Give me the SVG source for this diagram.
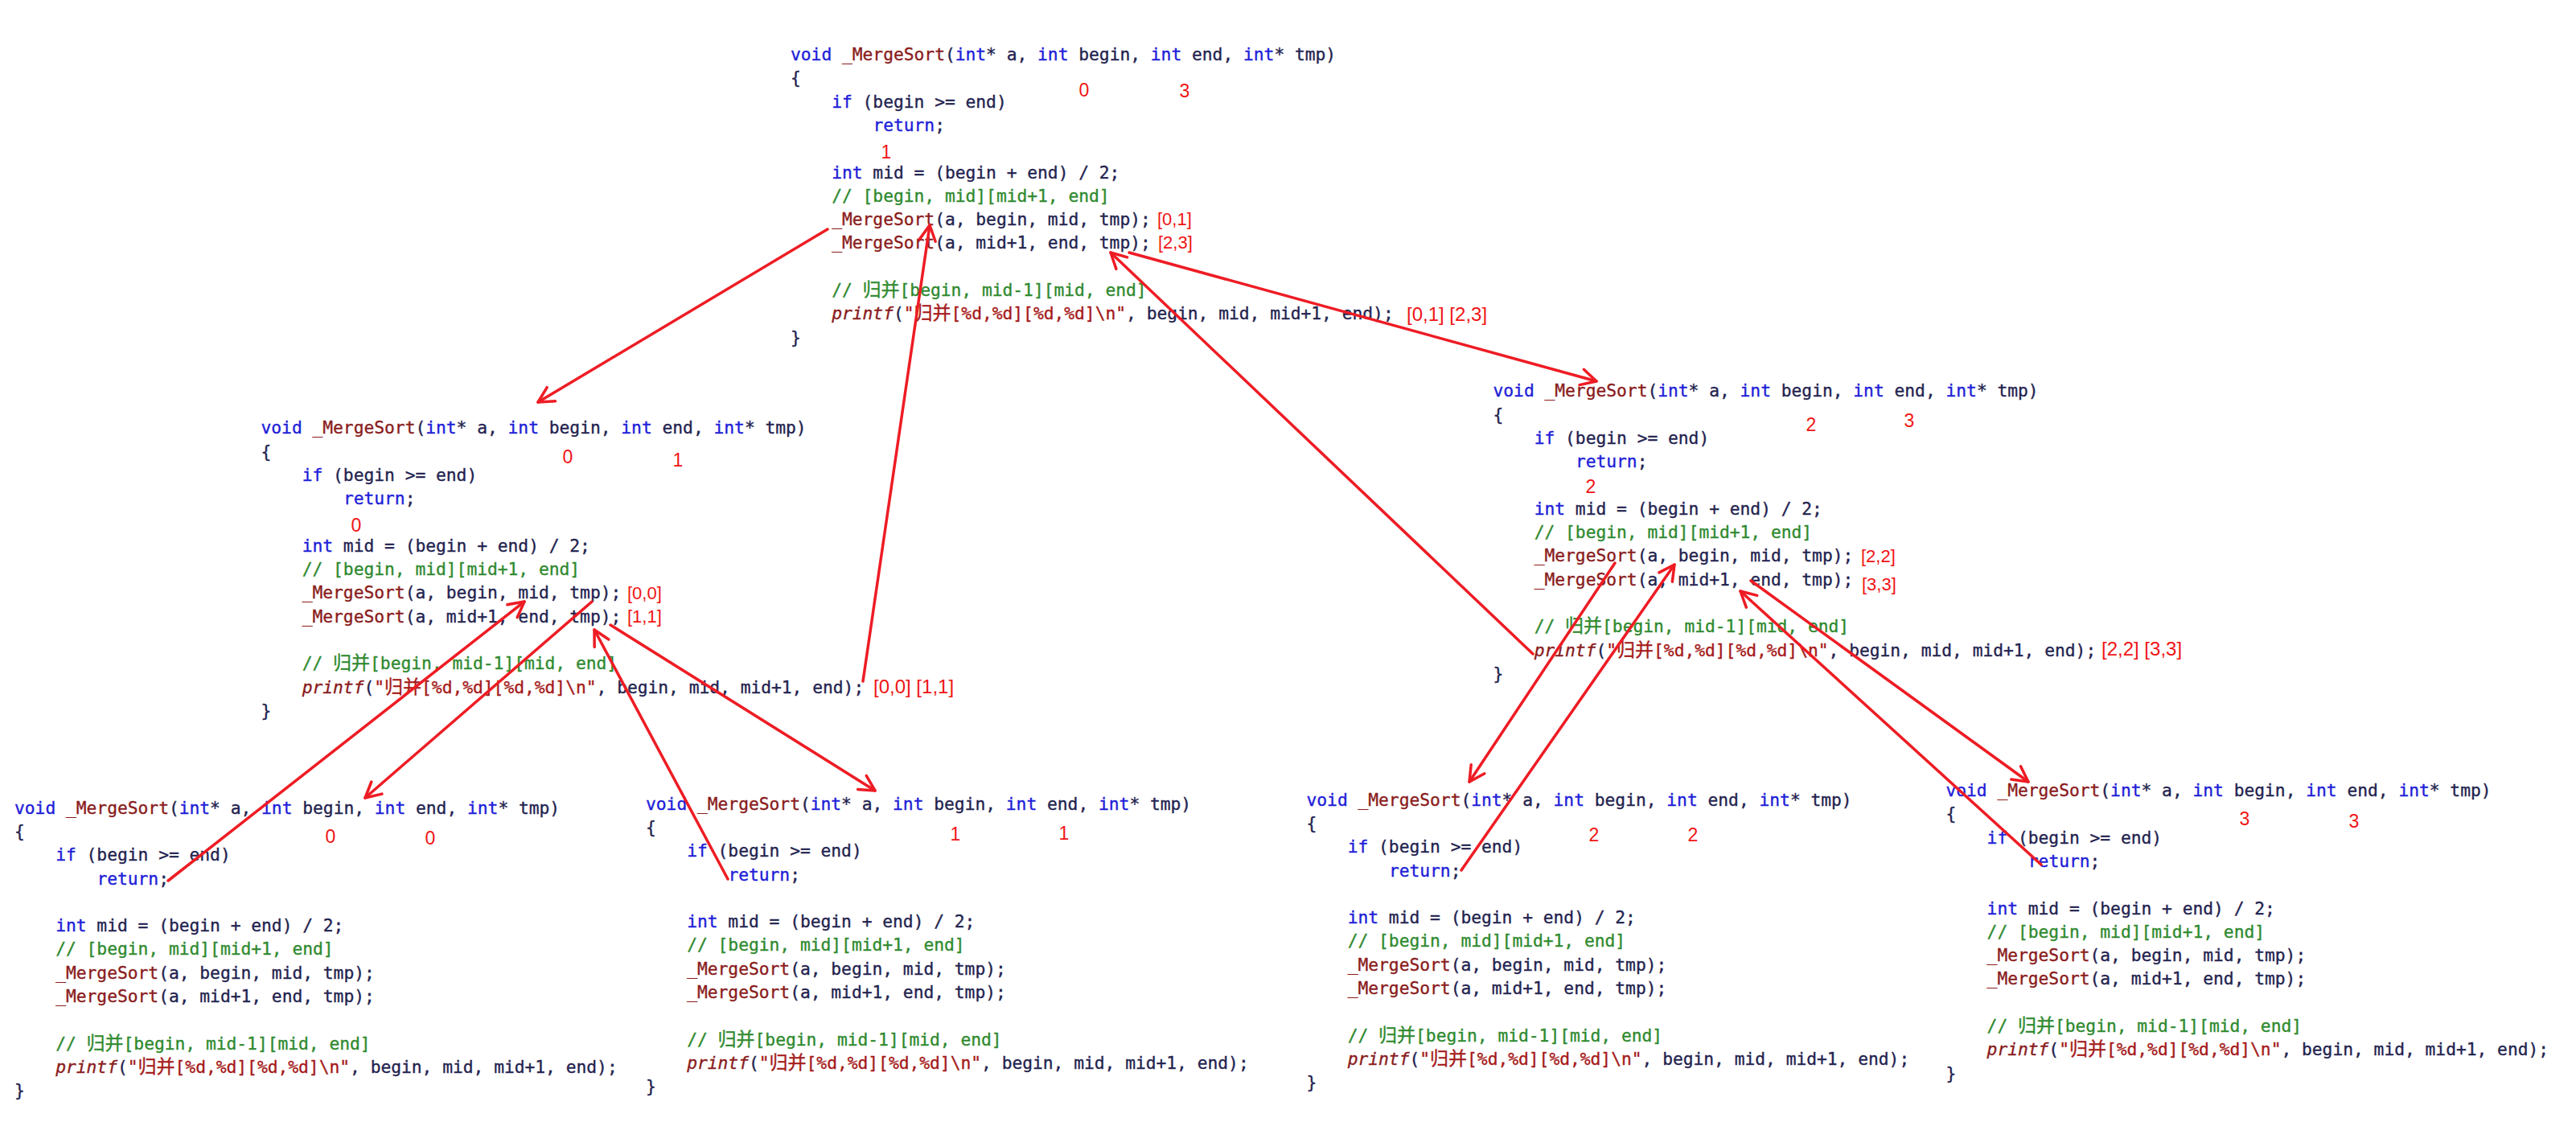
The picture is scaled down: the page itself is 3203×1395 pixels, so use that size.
<svg xmlns="http://www.w3.org/2000/svg" width="3203" height="1395" viewBox="0 0 3203 1395" xml:space="preserve">
<style>
.c{font-family:"DejaVu Sans Mono","Liberation Mono","Noto Sans CJK SC",monospace;font-size:21.26px;fill:#23234f;stroke:#23234f;stroke-width:0.35px}
.k{fill:#2020d8;stroke:#2020d8}
.f{fill:#8a1c1c;stroke:#8a1c1c}
.m{fill:#2f8a2f;stroke:#2f8a2f}
.s{fill:#a51a1a;stroke:#a51a1a}
.i{fill:#8a1c1c;stroke:#8a1c1c;font-style:italic}
.z{font-family:"Noto Sans CJK SC",sans-serif;font-size:23px}
.n{font-family:"Liberation Sans","Noto Sans",sans-serif;font-size:23px;fill:#f01414;text-anchor:middle}
.r{font-family:"Liberation Sans","Noto Sans",sans-serif;font-size:22px;fill:#f01414}
.r2{font-family:"Liberation Sans","Noto Sans",sans-serif;font-size:24px;fill:#f01414}
.a{fill:none;stroke:#ee1c24;stroke-width:3.5;stroke-linecap:round;marker-end:url(#ah)}
</style>
<defs>
<marker id="ah" markerUnits="userSpaceOnUse" markerWidth="40" markerHeight="40" refX="0" refY="0" orient="auto" overflow="visible"><path d="M-19,-10 L0,0 L-19,10" fill="none" stroke="#ee1c24" stroke-width="3.5" stroke-linecap="round" stroke-linejoin="round"/></marker>
</defs>
<rect width="3203" height="1395" fill="#ffffff"/>

<g id="node-top">
<g class="c" transform="translate(983,75)">
<text x="0" y="0"><tspan class="k">void</tspan> <tspan class="f">_MergeSort</tspan>(<tspan class="k">int</tspan>* a, <tspan class="k">int</tspan> begin, <tspan class="k">int</tspan> end, <tspan class="k">int</tspan>* tmp)</text>
<text x="0" y="29.3">{</text>
<text x="51.2" y="58.6"><tspan class="k">if</tspan> (begin &gt;= end)</text>
<text x="102.4" y="87.9"><tspan class="k">return</tspan>;</text>
<text x="51.2" y="146.5"><tspan class="k">int</tspan> mid = (begin + end) / 2;</text>
<text x="51.2" y="175.8" class="m">// [begin, mid][mid+1, end]</text>
<text x="51.2" y="205.1"><tspan class="f">_MergeSort</tspan>(a, begin, mid, tmp);</text>
<text x="51.2" y="234.4"><tspan class="f">_MergeSort</tspan>(a, mid+1, end, tmp);</text>
<text x="51.2" y="293" class="m">// <tspan class="z">归并</tspan>[begin, mid-1][mid, end]</text>
<text x="51.2" y="322.3"><tspan class="i">printf</tspan>(<tspan class="s">"<tspan class="z">归并</tspan>[%d,%d][%d,%d]\n"</tspan>, begin, mid, mid+1, end);</text>
<text x="0" y="351.6">}</text>
</g>
<text class="n" x="1348" y="120">0</text>
<text class="n" x="1473" y="121">3</text>
<text class="n" x="1102" y="197">1</text>
<text class="r" x="1439" y="280">[0,1]</text>
<text class="r" x="1440" y="309">[2,3]</text>
<text class="r2" x="1749" y="399">[0,1] [2,3]</text>
</g>

<g id="node-left-mid">
<g class="c" transform="translate(324.5,539.3)">
<text x="0" y="0"><tspan class="k">void</tspan> <tspan class="f">_MergeSort</tspan>(<tspan class="k">int</tspan>* a, <tspan class="k">int</tspan> begin, <tspan class="k">int</tspan> end, <tspan class="k">int</tspan>* tmp)</text>
<text x="0" y="29.3">{</text>
<text x="51.2" y="58.6"><tspan class="k">if</tspan> (begin &gt;= end)</text>
<text x="102.4" y="87.9"><tspan class="k">return</tspan>;</text>
<text x="51.2" y="146.5"><tspan class="k">int</tspan> mid = (begin + end) / 2;</text>
<text x="51.2" y="175.8" class="m">// [begin, mid][mid+1, end]</text>
<text x="51.2" y="205.1"><tspan class="f">_MergeSort</tspan>(a, begin, mid, tmp);</text>
<text x="51.2" y="234.4"><tspan class="f">_MergeSort</tspan>(a, mid+1, end, tmp);</text>
<text x="51.2" y="293" class="m">// <tspan class="z">归并</tspan>[begin, mid-1][mid, end]</text>
<text x="51.2" y="322.3"><tspan class="i">printf</tspan>(<tspan class="s">"<tspan class="z">归并</tspan>[%d,%d][%d,%d]\n"</tspan>, begin, mid, mid+1, end);</text>
<text x="0" y="351.6">}</text>
</g>
<text class="n" x="706" y="576">0</text>
<text class="n" x="843" y="580">1</text>
<text class="n" x="443" y="661">0</text>
<text class="r" x="780" y="745">[0,0]</text>
<text class="r" x="780" y="774">[1,1]</text>
<text class="r2" x="1086" y="862">[0,0] [1,1]</text>
</g>

<g id="node-right-mid">
<g class="c" transform="translate(1856.5,493.3)">
<text x="0" y="0"><tspan class="k">void</tspan> <tspan class="f">_MergeSort</tspan>(<tspan class="k">int</tspan>* a, <tspan class="k">int</tspan> begin, <tspan class="k">int</tspan> end, <tspan class="k">int</tspan>* tmp)</text>
<text x="0" y="29.3">{</text>
<text x="51.2" y="58.6"><tspan class="k">if</tspan> (begin &gt;= end)</text>
<text x="102.4" y="87.9"><tspan class="k">return</tspan>;</text>
<text x="51.2" y="146.5"><tspan class="k">int</tspan> mid = (begin + end) / 2;</text>
<text x="51.2" y="175.8" class="m">// [begin, mid][mid+1, end]</text>
<text x="51.2" y="205.1"><tspan class="f">_MergeSort</tspan>(a, begin, mid, tmp);</text>
<text x="51.2" y="234.4"><tspan class="f">_MergeSort</tspan>(a, mid+1, end, tmp);</text>
<text x="51.2" y="293" class="m">// <tspan class="z">归并</tspan>[begin, mid-1][mid, end]</text>
<text x="51.2" y="322.3"><tspan class="i">printf</tspan>(<tspan class="s">"<tspan class="z">归并</tspan>[%d,%d][%d,%d]\n"</tspan>, begin, mid, mid+1, end);</text>
<text x="0" y="351.6">}</text>
</g>
<text class="n" x="2252" y="536">2</text>
<text class="n" x="2374" y="531">3</text>
<text class="n" x="1978" y="613">2</text>
<text class="r" x="2314" y="699">[2,2]</text>
<text class="r" x="2315" y="734">[3,3]</text>
<text class="r2" x="2613" y="815">[2,2] [3,3]</text>
</g>

<g id="node-bottom-1">
<g class="c" transform="translate(18,1011.7)">
<text x="0" y="0"><tspan class="k">void</tspan> <tspan class="f">_MergeSort</tspan>(<tspan class="k">int</tspan>* a, <tspan class="k">int</tspan> begin, <tspan class="k">int</tspan> end, <tspan class="k">int</tspan>* tmp)</text>
<text x="0" y="29.3">{</text>
<text x="51.2" y="58.6"><tspan class="k">if</tspan> (begin &gt;= end)</text>
<text x="102.4" y="87.9"><tspan class="k">return</tspan>;</text>
<text x="51.2" y="146.5"><tspan class="k">int</tspan> mid = (begin + end) / 2;</text>
<text x="51.2" y="175.8" class="m">// [begin, mid][mid+1, end]</text>
<text x="51.2" y="205.1"><tspan class="f">_MergeSort</tspan>(a, begin, mid, tmp);</text>
<text x="51.2" y="234.4"><tspan class="f">_MergeSort</tspan>(a, mid+1, end, tmp);</text>
<text x="51.2" y="293" class="m">// <tspan class="z">归并</tspan>[begin, mid-1][mid, end]</text>
<text x="51.2" y="322.3"><tspan class="i">printf</tspan>(<tspan class="s">"<tspan class="z">归并</tspan>[%d,%d][%d,%d]\n"</tspan>, begin, mid, mid+1, end);</text>
<text x="0" y="351.6">}</text>
</g>
<text class="n" x="411" y="1048">0</text>
<text class="n" x="535" y="1050">0</text>
</g>

<g id="node-bottom-2">
<g class="c" transform="translate(803,1006.7)">
<text x="0" y="0"><tspan class="k">void</tspan> <tspan class="f">_MergeSort</tspan>(<tspan class="k">int</tspan>* a, <tspan class="k">int</tspan> begin, <tspan class="k">int</tspan> end, <tspan class="k">int</tspan>* tmp)</text>
<text x="0" y="29.3">{</text>
<text x="51.2" y="58.6"><tspan class="k">if</tspan> (begin &gt;= end)</text>
<text x="102.4" y="87.9"><tspan class="k">return</tspan>;</text>
<text x="51.2" y="146.5"><tspan class="k">int</tspan> mid = (begin + end) / 2;</text>
<text x="51.2" y="175.8" class="m">// [begin, mid][mid+1, end]</text>
<text x="51.2" y="205.1"><tspan class="f">_MergeSort</tspan>(a, begin, mid, tmp);</text>
<text x="51.2" y="234.4"><tspan class="f">_MergeSort</tspan>(a, mid+1, end, tmp);</text>
<text x="51.2" y="293" class="m">// <tspan class="z">归并</tspan>[begin, mid-1][mid, end]</text>
<text x="51.2" y="322.3"><tspan class="i">printf</tspan>(<tspan class="s">"<tspan class="z">归并</tspan>[%d,%d][%d,%d]\n"</tspan>, begin, mid, mid+1, end);</text>
<text x="0" y="351.6">}</text>
</g>
<text class="n" x="1188" y="1045">1</text>
<text class="n" x="1323" y="1044">1</text>
</g>

<g id="node-bottom-3">
<g class="c" transform="translate(1624.5,1001.7)">
<text x="0" y="0"><tspan class="k">void</tspan> <tspan class="f">_MergeSort</tspan>(<tspan class="k">int</tspan>* a, <tspan class="k">int</tspan> begin, <tspan class="k">int</tspan> end, <tspan class="k">int</tspan>* tmp)</text>
<text x="0" y="29.3">{</text>
<text x="51.2" y="58.6"><tspan class="k">if</tspan> (begin &gt;= end)</text>
<text x="102.4" y="87.9"><tspan class="k">return</tspan>;</text>
<text x="51.2" y="146.5"><tspan class="k">int</tspan> mid = (begin + end) / 2;</text>
<text x="51.2" y="175.8" class="m">// [begin, mid][mid+1, end]</text>
<text x="51.2" y="205.1"><tspan class="f">_MergeSort</tspan>(a, begin, mid, tmp);</text>
<text x="51.2" y="234.4"><tspan class="f">_MergeSort</tspan>(a, mid+1, end, tmp);</text>
<text x="51.2" y="293" class="m">// <tspan class="z">归并</tspan>[begin, mid-1][mid, end]</text>
<text x="51.2" y="322.3"><tspan class="i">printf</tspan>(<tspan class="s">"<tspan class="z">归并</tspan>[%d,%d][%d,%d]\n"</tspan>, begin, mid, mid+1, end);</text>
<text x="0" y="351.6">}</text>
</g>
<text class="n" x="1982" y="1046">2</text>
<text class="n" x="2105" y="1046">2</text>
</g>

<g id="node-bottom-4">
<g class="c" transform="translate(2419.4,990)">
<text x="0" y="0"><tspan class="k">void</tspan> <tspan class="f">_MergeSort</tspan>(<tspan class="k">int</tspan>* a, <tspan class="k">int</tspan> begin, <tspan class="k">int</tspan> end, <tspan class="k">int</tspan>* tmp)</text>
<text x="0" y="29.3">{</text>
<text x="51.2" y="58.6"><tspan class="k">if</tspan> (begin &gt;= end)</text>
<text x="102.4" y="87.9"><tspan class="k">return</tspan>;</text>
<text x="51.2" y="146.5"><tspan class="k">int</tspan> mid = (begin + end) / 2;</text>
<text x="51.2" y="175.8" class="m">// [begin, mid][mid+1, end]</text>
<text x="51.2" y="205.1"><tspan class="f">_MergeSort</tspan>(a, begin, mid, tmp);</text>
<text x="51.2" y="234.4"><tspan class="f">_MergeSort</tspan>(a, mid+1, end, tmp);</text>
<text x="51.2" y="293" class="m">// <tspan class="z">归并</tspan>[begin, mid-1][mid, end]</text>
<text x="51.2" y="322.3"><tspan class="i">printf</tspan>(<tspan class="s">"<tspan class="z">归并</tspan>[%d,%d][%d,%d]\n"</tspan>, begin, mid, mid+1, end);</text>
<text x="0" y="351.6">}</text>
</g>
<text class="n" x="2791" y="1026">3</text>
<text class="n" x="2927" y="1029">3</text>
</g>

<g id="connectors">
<path class="a" d="M1029,285 L669,500"/>
<path class="a" d="M1073,847 L1156,280"/>
<path class="a" d="M1404,314 L1985,474"/>
<path class="a" d="M1906,813 L1381,314"/>
<path class="a" d="M736,748 L454,992"/>
<path class="a" d="M209,1095 L652,748"/>
<path class="a" d="M759,777 L1088,983"/>
<path class="a" d="M905,1093 L739,783"/>
<path class="a" d="M2008,700 L1827,972"/>
<path class="a" d="M1817,1082 L2082,702"/>
<path class="a" d="M2177,722 L2522,972"/>
<path class="a" d="M2538,1075 L2164,735"/>
</g>
</svg>
